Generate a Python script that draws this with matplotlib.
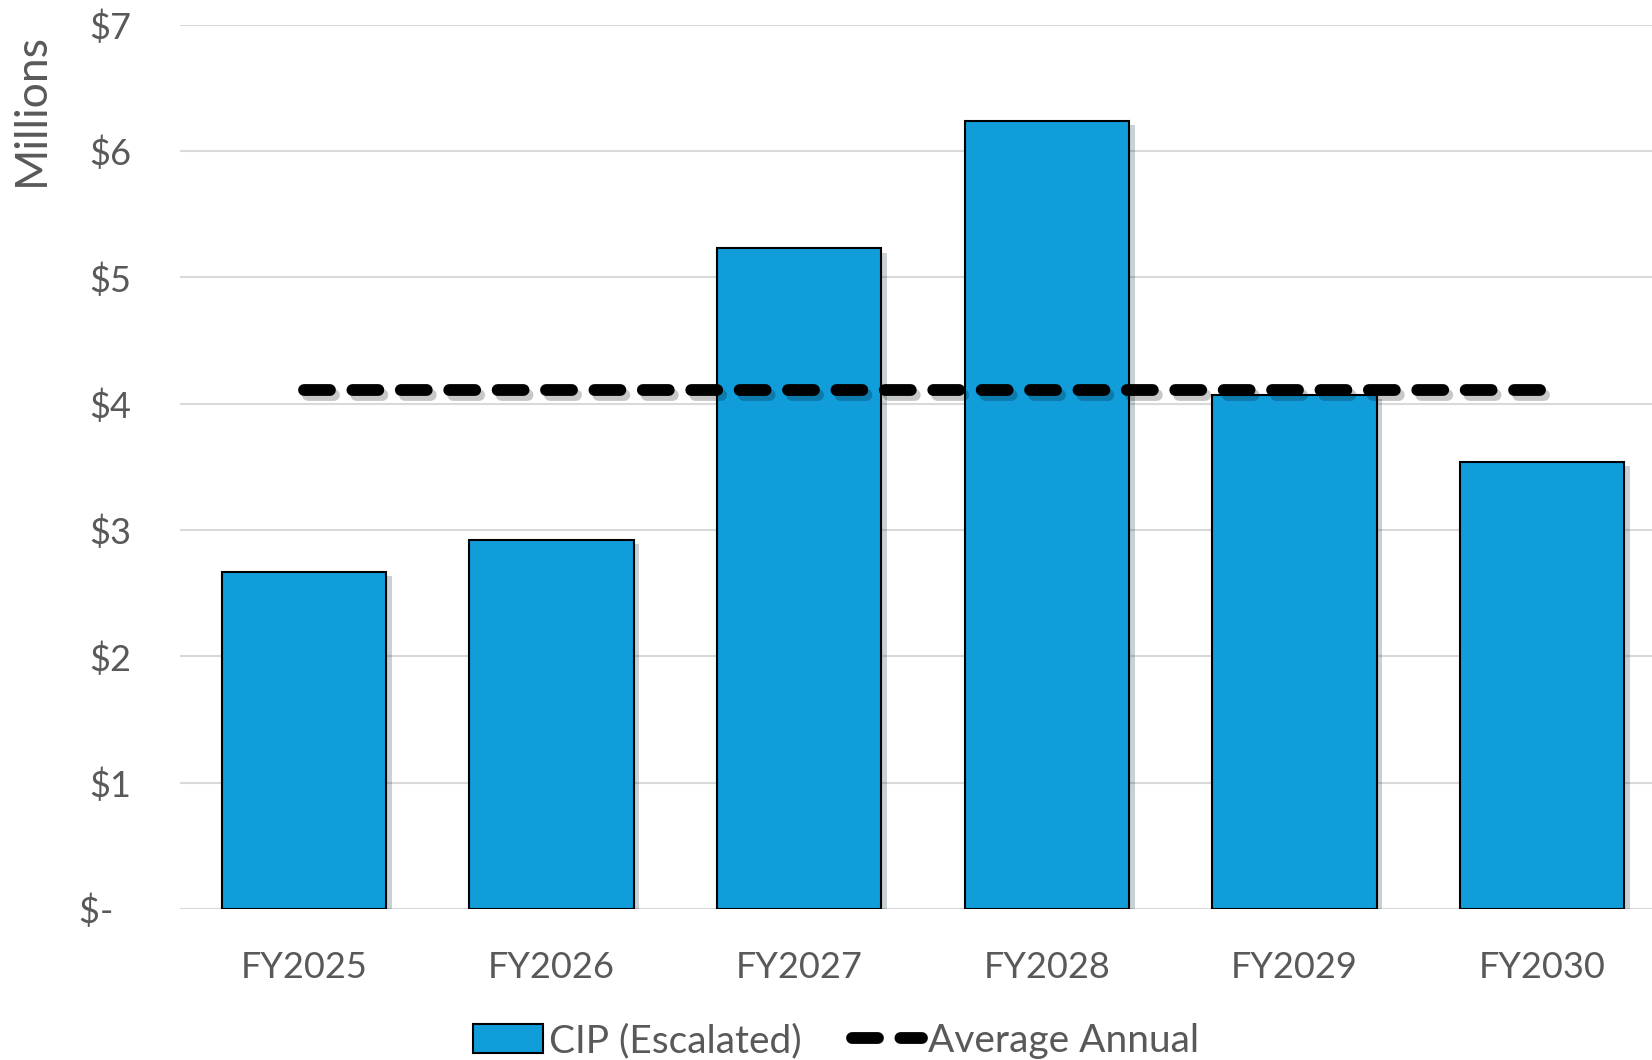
import matplotlib
import matplotlib.pyplot as plt
import matplotlib.patheffects as pe
from matplotlib.lines import Line2D
from matplotlib.patches import Patch

matplotlib.use("Agg")

years = ["FY2025", "FY2026", "FY2027", "FY2028", "FY2029", "FY2030"]
cip = [2.67, 2.92, 5.23, 6.24, 4.07, 3.54]
avg_annual = sum(cip) / len(cip)
y_ticks = [0, 1, 2, 3, 4, 5, 6, 7]
y_labels = ["$-  ", "$1", "$2", "$3", "$4", "$5", "$6", "$7"]

plt.rcParams["font.family"] = ["Lato", "DejaVu Sans"]
grey = "#595959"
blue = "#109DDA"
dash = (2.2, 1.9)

fig = plt.figure(figsize=(16.52, 10.60), dpi=100)
ax = fig.add_axes([0.109, 0.1425, 0.8995, 0.834])

x = list(range(len(years)))
bars = ax.bar(x, cip, width=0.664, color=blue, edgecolor="black", linewidth=1.5, zorder=3)
for b in bars:
    b.set_path_effects([pe.SimplePatchShadow(offset=(4, -3), alpha=0.22), pe.Normal()])

line, = ax.plot([x[0], x[-1]], [avg_annual, avg_annual], color="black", linewidth=8.5,
                dashes=dash, dash_capstyle="round", zorder=4)
line.set_path_effects([pe.SimpleLineShadow(offset=(3, -4), alpha=0.22), pe.Normal()])

ax.set_xlim(-0.5, 5.5)
ax.set_ylim(0, 7)
ax.set_yticks(y_ticks)
ax.set_yticklabels(y_labels)
ax.set_xticks(x)
ax.set_xticklabels(years)
ax.tick_params(axis="both", length=0, labelsize=26, colors=grey)
ax.tick_params(axis="y", pad=35)
ax.tick_params(axis="x", pad=30)
ax.grid(axis="y", color="#d9d9d9", linewidth=1.5, zorder=0)
ax.set_axisbelow(True)
for s in ax.spines.values():
    s.set_visible(False)

fig.text(0.019, 0.897, "Millions", rotation=90, ha="center", va="center",
         fontsize=32, color=grey)

handles = [
    Patch(facecolor=blue, edgecolor="black", linewidth=1.5, label="CIP (Escalated)"),
    Line2D([0], [0], color="black", linewidth=8.5, dashes=dash,
           dash_capstyle="round", label="Average Annual"),
]
fig.legend(handles=handles, loc="center", bbox_to_anchor=(0.506, 0.018), ncol=2,
           frameon=False, fontsize=28, labelcolor=grey, handlelength=1.8,
           handleheight=0.75, handletextpad=0.15, columnspacing=1.3, borderaxespad=0)

fig.savefig("out.png", dpi=100)
plt.close(fig)
